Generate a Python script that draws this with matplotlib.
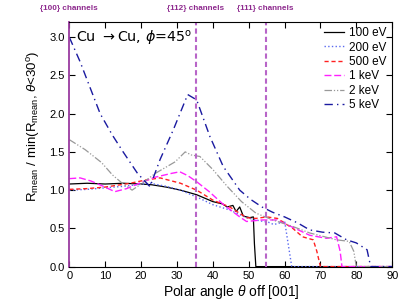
import matplotlib
matplotlib.use('Agg')
import matplotlib.pyplot as plt

plt.rcParams['font.family'] = ['Liberation Sans', 'DejaVu Sans']
plt.rcParams['mathtext.fontset'] = 'custom'
plt.rcParams['mathtext.rm'] = 'Liberation Sans'
plt.rcParams['mathtext.it'] = 'Liberation Sans:italic'

# 100 eV
x100 = [0, 5, 10, 15, 20, 23, 27, 31, 35.5, 40, 42.7, 44, 45.6, 46.5, 47.5, 48.5, 50.3, 51.3, 51.6, 52, 90]
y100 = [1.08, 1.09, 1.08, 1.09, 1.08, 1.07, 1.04, 1.0, 0.94, 0.85, 0.82, 0.78, 0.8, 0.72, 0.78, 0.66, 0.64, 0.65, 0.3, 0.0, 0.0]
# 200 eV
x200 = [0, 5, 10, 15, 22.5, 27, 31, 36, 40, 44.7, 49.4, 53, 55.5, 57, 58.6, 60, 61, 62, 90]
y200 = [1.0, 1.01, 1.03, 1.05, 1.09, 1.05, 1.0, 0.9, 0.81, 0.74, 0.64, 0.6, 0.58, 0.55, 0.57, 0.6, 0.3, 0.0, 0.0]
# 500 eV
x500 = [0, 5, 10, 17, 21, 25.3, 31, 35.5, 40, 44.7, 49.4, 52, 55, 58, 62.3, 65, 68, 69, 70, 90]
y500 = [1.01, 1.02, 1.04, 1.09, 1.13, 1.16, 1.09, 1.0, 0.87, 0.78, 0.64, 0.63, 0.65, 0.63, 0.5, 0.39, 0.35, 0.2, 0.0, 0.0]
# 1 keV
x1k = [0, 3, 6, 9, 12.7, 16, 20, 24, 28.6, 30.8, 33, 35.5, 39, 43, 47.5, 49.4, 53.7, 57.8, 62, 67, 71.7, 74.5, 75.5, 76, 90]
y1k = [1.15, 1.16, 1.12, 1.06, 0.98, 1.02, 1.1, 1.17, 1.22, 1.24, 1.19, 1.11, 0.98, 0.81, 0.65, 0.59, 0.61, 0.61, 0.52, 0.41, 0.37, 0.39, 0.2, 0.0, 0.0]
# 2 keV
x2k = [0, 4.4, 9, 12, 14.5, 17.5, 20, 24, 29.5, 32.3, 34, 36.4, 40, 44, 48, 52, 56.7, 62, 67, 74.5, 78, 79.3, 80, 90]
y2k = [1.66, 1.53, 1.36, 1.2, 1.1, 1.0, 1.08, 1.22, 1.37, 1.5, 1.46, 1.44, 1.27, 1.05, 0.85, 0.7, 0.61, 0.53, 0.44, 0.35, 0.33, 0.2, 0.0, 0.0]
# 5 keV
x5k = [0, 3, 5.3, 8.6, 12, 15, 19, 22.5, 25.3, 29, 33, 35.5, 39.2, 42.9, 47.5, 50.5, 53.7, 56.7, 60, 63.7, 67, 70.6, 74, 77.3, 80, 83, 84, 90]
y5k = [3.0, 2.68, 2.4, 2.0, 1.72, 1.5, 1.22, 1.045, 1.40, 1.79, 2.25, 2.18, 1.70, 1.31, 1.0, 0.88, 0.78, 0.71, 0.65, 0.57, 0.48, 0.45, 0.44, 0.35, 0.31, 0.22, 0.0, 0.0]

channels = [0, 35.26, 54.74]
channel_labels = ['{100} channels', '{112} channels', '{111} channels']

fig = plt.figure(figsize=(4.15, 3.04), dpi=100)
ax = fig.add_axes([0.167, 0.123, 0.778, 0.805])

ax.plot(x100, y100, '-', color='black', lw=0.9, label='100 eV')
ax.plot(x200, y200, ':', color='#5a6af0', lw=1.0, label='200 eV')
ax.plot(x500, y500, '--', color='#ff2020', lw=1.0, dashes=(3, 2), label='500 eV')
ax.plot(x1k, y1k, '--', color='#ff20ff', lw=1.0, dashes=(5, 2), label='1 keV')
ax.plot(x2k, y2k, color='#999999', lw=0.9, dashes=(6, 1.5, 1, 1.5, 1, 1.5), label='2 keV')
ax.plot(x5k, y5k, color='#1a1aa0', lw=1.0, dashes=(6, 3, 1, 3), label='5 keV')

for c, lab in zip(channels, channel_labels):
    if c > 0:
        ax.axvline(c, color='#b865c8', lw=1.5, ls=(0, (2.5, 1.5)))
    ax.text(c, 3.377, lab, color='#8e2a8e', fontsize=5.9, fontweight='bold',
            ha='center', va='center', clip_on=False)
ax.spines['left'].set_color('#9a3aa0')
ax.spines['left'].set_linewidth(1.3)

ax.text(2, 2.93, r'Cu $\rightarrow$Cu, $\phi$=45$^{\rm o}$', fontsize=10.3,
        family='DejaVu Sans', math_fontfamily='dejavusans')

ax.set_xlim(0, 90)
ax.set_ylim(0, 3.2)
ax.set_xticks(range(0, 91, 10))
ax.set_yticks([0, 0.5, 1.0, 1.5, 2.0, 2.5, 3.0])
ax.set_yticklabels(['0.0', '0.5', '1.0', '1.5', '2.0', '2.5', '3.0'])
ax.tick_params(direction='in', top=True, right=True, labelsize=8, length=4)
ax.set_xlabel(r'Polar angle $\theta$ off [001]', fontsize=10, labelpad=1)
ax.set_ylabel(r'R$_{\rm mean}$ / min(R$_{\rm mean}$, $\theta$<30$^{\rm o}$)', fontsize=9.5)
ax.yaxis.set_label_coords(-0.085, 0.575)

ax.legend(loc='upper right', frameon=False, fontsize=8.5, handlelength=1.7,
          labelspacing=0.2, borderaxespad=0.05, handletextpad=0.45)

fig.savefig('out.png', dpi=100)
